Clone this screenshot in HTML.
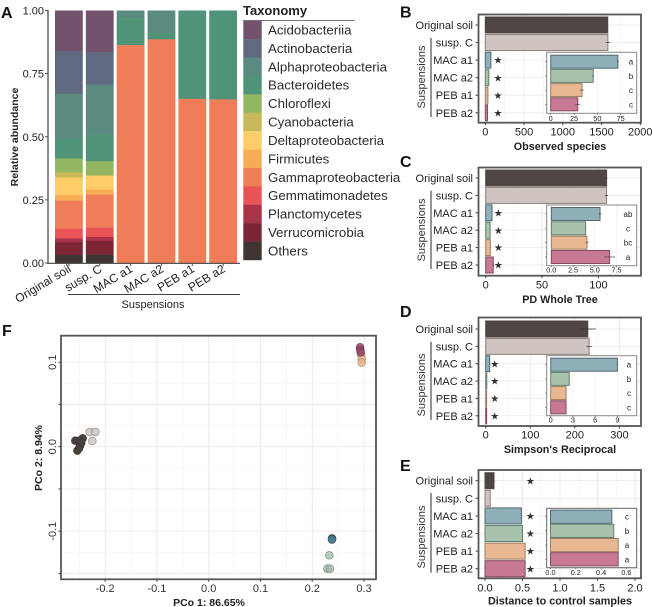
<!DOCTYPE html>
<html lang="en">
<head>
<meta charset="utf-8">
<title>Soil community composition and diversity</title>
<style>
html,body{margin:0;padding:0;background:#fff;width:652px;height:607px;overflow:hidden}
svg{display:block;font-family:"Liberation Sans",Arial,sans-serif;fill:#222;filter:blur(0.3px)}
</style>
</head>
<body>
<svg id="figure" width="652" height="607" viewBox="0 0 652 607" xmlns="http://www.w3.org/2000/svg">
  <rect x="0" y="0" width="652" height="607" fill="#fff"/>
  <text x="1" y="18" font-size="16" font-weight="bold" fill="#111">A</text>
  <text x="400" y="17.5" font-size="16" font-weight="bold" fill="#111">B</text>
  <text x="400" y="167" font-size="16" font-weight="bold" fill="#111">C</text>
  <text x="400" y="317" font-size="16" font-weight="bold" fill="#111">D</text>
  <text x="400" y="471" font-size="16" font-weight="bold" fill="#111">E</text>
  <text x="2" y="336" font-size="16" font-weight="bold" fill="#111">F</text>
  <text transform="translate(18,137) rotate(-90)" text-anchor="middle" font-size="10.5" font-weight="bold">Relative abundance</text>
  <text x="153" y="308" text-anchor="middle" font-size="11">Suspensions</text>
  <line x1="68" x2="240" y1="294.5" y2="294.5" stroke="#444" stroke-width="1"/>
  <text x="243" y="15" font-size="13" font-weight="bold" fill="#222">Taxonomy</text>
  <line x1="243" x2="355" y1="20.5" y2="20.5" stroke="#777" stroke-width="1"/>
  <text x="209" y="606" text-anchor="middle" font-size="10.5" font-weight="bold">PCo 1: 86.65%</text>
  <text transform="translate(42,458) rotate(-90)" text-anchor="middle" font-size="10.5" font-weight="bold">PCo 2: 8.94%</text>
</svg>
<script>
// ---------- Panel A data ----------
const taxa = ['Acidobacteriia','Actinobacteria','Alphaproteobacteria','Bacteroidetes','Chloroflexi','Cyanobacteria','Deltaproteobacteria','Firmicutes','Gammaproteobacteria','Gemmatimonadetes','Planctomycetes','Verrucomicrobia','Others'];
const samples = ['Original soil','susp. C','MAC a1','MAC a2','PEB a1','PEB a2'];
const stackOriginalSoil = [0.16,0.17,0.18,0.076,0.055,0.02,0.07,0.022,0.112,0.038,0.015,0.05,0.032];
const stackSuspC = [0.164,0.13,0.198,0.105,0.055,0.003,0.054,0.02,0.131,0.037,0.015,0.055,0.033];
const stackMacA1 = [0,0,0.03,0.107,0,0,0,0,0.863,0,0,0,0];
const stackMacA2 = [0,0,0.09,0.024,0,0,0,0,0.886,0,0,0,0];
const stackPebA1 = [0,0,0,0.35,0,0,0,0,0.65,0,0,0,0];
const stackPebA2 = [0,0,0,0.352,0,0,0,0,0.648,0,0,0,0];
const abundanceTicks = [0,0.25,0.5,0.75,1];

// ---------- Panels B-E data ----------
const observedValues = [1580,1582,72,45.5,33.5,29];
const observedErrors = [4,28,1,1,2,2.5];
const observedTicks = [0,500,1000,1500,2000];
const observedInsetTicks = [0,25,50,75];
const observedLetters = ['a','b','c','c'];

const pdValues = [107.3,107.2,5.6,3.95,4.1,6.7];
const pdErrors = [0.5,1.5,0.15,0.05,0.15,0.63];
const pdTicks = [0,50,100];
const pdInsetTicks = [0,2.5,5,7.5];
const pdLetters = ['ab','c','bc','a'];

const simpsonValues = [229,232,9,2.5,2.07,2.07];
const simpsonErrors = [18,6,0.1,0.05,0.02,0.02];
const simpsonTicks = [0,100,200,300];
const simpsonInsetTicks = [0,3,6,9];
const simpsonLetters = ['a','b','c','c'];

const distanceValues = [0.12,0.07,0.485,0.5,0.535,0.535];
const distanceErrors = [0,0,0,0,0,0];
const distanceTicks = [0,0.5,1,1.5,2];
const distanceInsetTicks = [0,0.2,0.4,0.6];
const distanceLetters = ['c','b','a','a'];

// ---------- Panel F data ----------
const pcoTicksX = [-0.2,-0.1,0,0.1,0.2,0.3];
const pcoTicksY = [-0.1,0,0.1];
const pcoOriginalX = [-0.2577,-0.2434,-0.25,-0.2538,-0.2486,-0.2505,-0.2461];
const pcoOriginalY = [0.0071,0.0099,0.0071,-0.0047,0.0008,-0.0019,0.0047];
const pcoSuspX = [-0.2299,-0.219,-0.2248];
const pcoSuspY = [0.0174,0.0174,0.0067];
const pcoMacA1X = [0.2382,0.2385,0.238];
const pcoMacA1Y = [-0.1085,-0.1092,-0.11];
const pcoMacA2X = [0.233,0.2291,0.2343];
const pcoMacA2Y = [-0.1285,-0.1444,-0.1444];
const pcoPebA1X = [0.2948,0.2955,0.2955];
const pcoPebA1Y = [0.1085,0.1038,0.0994];
const pcoPebA2X = [0.2923,0.2928,0.2936];
const pcoPebA2Y = [0.1176,0.1145,0.1118];

// ---------- Styles ----------
const taxonColors = ['#73526b','#5f6a80','#5a8a80','#4f9478','#93b662','#c7b95a','#fdcd68','#f7ac56','#ee7d58','#ea5456','#a93347','#7b2535','#3e3533'];
const barFill = ['#4f4643','#cfc4bf','#8fb0b8','#a9c2ae','#e9b892','#c87a95'];
const barStroke = ['#4f4643','#8a7f78','#4f6872','#64806b','#9a7d65','#85495f'];

const NS = 'http://www.w3.org/2000/svg';
const root = document.getElementById('figure');

function make(tag, name, parent) {
  const el = document.createElementNS(NS, tag);
  
  
  parent.appendChild(el);
  return el;
}
function line(parent, name, x1, y1, x2, y2, color, width) {
  const el = make('line', name, parent);
  el.setAttribute('x1', x1); el.setAttribute('y1', y1);
  el.setAttribute('x2', x2); el.setAttribute('y2', y2);
  el.setAttribute('stroke', color); el.setAttribute('stroke-width', width);
  return el;
}
function rect(parent, name, x, y, w, h, fill, stroke, sw) {
  const el = make('rect', name, parent);
  el.setAttribute('x', x); el.setAttribute('y', y);
  el.setAttribute('width', Math.max(0, w)); el.setAttribute('height', Math.max(0, h));
  el.setAttribute('fill', fill);
  if (stroke) { el.setAttribute('stroke', stroke); el.setAttribute('stroke-width', sw); }
  return el;
}
function text(parent, name, x, y, str, size, anchor, opts) {
  const el = make('text', name, parent);
  opts = opts || {};
  el.setAttribute('font-size', size);
  el.setAttribute('text-anchor', anchor || 'start');
  if (opts.weight) el.setAttribute('font-weight', opts.weight);
  if (opts.fill) el.setAttribute('fill', opts.fill);
  if (opts.family) el.setAttribute('font-family', opts.family);
  if (opts.rotate !== undefined) {
    el.setAttribute('transform', 'translate(' + x + ',' + y + ') rotate(' + opts.rotate + ')');
  } else {
    el.setAttribute('x', x);
    el.setAttribute('y', y);
  }
  el.textContent = str;
  return el;
}
function slug(s) { return String(s).toLowerCase().replace(/[^a-z0-9]+/g, '-'); }

// ---------- Panel A ----------
(function drawStack() {
  const g = make('g', 'stacked-bar-chart', root);
  const yScale = v => 263 - 252.5 * v;
  const xLeft = i => 55 + 30.85 * i;
  const barW = 27.8;
  const stacks = [stackOriginalSoil, stackSuspC, stackMacA1, stackMacA2, stackPebA1, stackPebA2];
  stacks.forEach((stack, i) => {
    const col = make('g', 'stack-' + slug(samples[i]), g);
    let top = 1;
    stack.forEach((v, t) => {
      if (v <= 0) return;
      const y0 = yScale(top);
      const y1 = yScale(top - v);
      rect(col, 'segment-' + slug(taxa[t]), xLeft(i), y0, barW, y1 - y0 + 0.2, taxonColors[t]);
      top -= v;
    });
    const cx = xLeft(i) + barW / 2;
    line(g, 'x-tick', cx, 263, cx, 266, '#555', 1);
    text(g, 'x-tick-label', cx + 3, 271, samples[i], 12, 'end', { rotate: -31, fill: '#222' });
  });
  line(g, 'y-axis-line', 48, 10, 48, 264, '#666', 1.5);
  line(g, 'x-axis-line', 47.3, 263.4, 240, 263.4, '#555', 1.2);
  abundanceTicks.forEach(v => {
    line(g, 'y-tick', 45, yScale(v), 48, yScale(v), '#555', 1);
    text(g, 'y-tick-label', 44, yScale(v) + 4, v.toFixed(2), 11, 'end', { fill: '#222' });
  });
  const lg = make('g', 'taxonomy-legend', root);
  const rowH = (260 - 20.7) / taxa.length;
  taxa.forEach((name, i) => {
    rect(lg, 'legend-swatch-' + slug(name), 243.3, 20.7 + rowH * i, 18.4, rowH + 0.2, taxonColors[i]);
    text(lg, 'legend-label-' + slug(name), 268, 20.7 + rowH * (i + 0.5) + 4.6, name, 13.3, 'start', { fill: '#2b2b2b' });
  });
})();

// ---------- Panels B-E ----------
function drawBarPanel(cfg) {
  const g = make('g', cfg.name + '-panel', root);
  const xs = v => cfg.x0 + cfg.scale * v;
  const rowY = i => cfg.firstRow + cfg.step * i;
  const L = 478.5, R = 641, T = cfg.top, B = cfg.bottom;
  // frame background + grid
  rect(g, 'plot-background', L, T, R - L, B - T, '#fff');
  for (let i = 0; i < samples.length; i++) {
    line(g, 'grid-line-horizontal', L, rowY(i), R, rowY(i), '#efe9e6', 0.8);
  }
  cfg.ticks.forEach((v, i) => {
    line(g, 'grid-line-vertical', xs(v), T, xs(v), B, '#ede6e3', 0.8);
    if (i < cfg.ticks.length - 1) {
      const mid = xs((v + cfg.ticks[i + 1]) / 2);
      line(g, 'grid-line-minor', mid, T, mid, B, '#f5f1ef', 0.6);
    }
  });
  // bars
  cfg.values.forEach((v, i) => {
    rect(g, 'bar-' + slug(samples[i]), cfg.x0, rowY(i) - cfg.barH / 2, xs(v) - cfg.x0, cfg.barH, barFill[i], barStroke[i], 1);
    if (cfg.errors[i] > 0) {
      line(g, 'error-bar-' + slug(samples[i]), xs(v - cfg.errors[i]), rowY(i), xs(v + cfg.errors[i]), rowY(i), '#333', 0.7);
    }
    line(g, 'y-tick', L - 3, rowY(i), L, rowY(i), '#444', 1);
    text(g, 'y-tick-label', 473, rowY(i) + 4, samples[i], 11, 'end', { fill: '#222' });
    if (cfg.starX[i] !== null) {
      text(g, 'significance-star', cfg.starX[i], rowY(i) + 3.6, '\u2605', 10, 'middle', { fill: '#333', family: '"DejaVu Sans",sans-serif' });
    }
  });
  // frame
  rect(g, 'plot-frame', L, T, R - L, B - T, 'none', '#5a5654', 1.8);
  cfg.ticks.forEach(v => {
    line(g, 'x-tick', xs(v), B, xs(v), B + 2.5, '#444', 1);
    text(g, 'x-tick-label', xs(v), B + cfg.tickOffset, cfg.fmt(v), 11, 'middle', { fill: '#222' });
  });
  text(g, 'x-axis-title', 560, cfg.titleY, cfg.title, 10.8, 'middle', { weight: 'bold', fill: '#222' });
  text(g, 'suspensions-axis-label', 425, cfg.groupMid, 'Suspensions', 11, 'middle', { rotate: -90, fill: '#333' });
  line(g, 'suspensions-bracket', 431, cfg.groupTop, 431, cfg.groupBottom, '#666', 1.4);

  // inset
  const ins = make('g', cfg.name + '-inset', g);
  const iL = 546.7, iR = 636.7;
  const ix = v => cfg.ix0 + cfg.iscale * v;
  const iy = i => cfg.iFirst + cfg.iStep * i;
  rect(ins, 'inset-background', iL, cfg.iTop, iR - iL, cfg.iBottom - cfg.iTop, '#fff');
  cfg.iTicks.forEach(v => {
    line(ins, 'inset-grid-line', ix(v), cfg.iTop, ix(v), cfg.iBottom, '#f0ebe8', 0.6);
  });
  cfg.values.slice(2).forEach((v, i) => {
    const s = i + 2;
    rect(ins, 'inset-bar-' + slug(samples[s]), cfg.ix0, iy(i) - cfg.iBarH / 2, ix(v) - cfg.ix0, cfg.iBarH, barFill[s], barStroke[s], 1);
    if (cfg.errors[s] > 0) {
      line(ins, 'inset-error-bar', ix(v - cfg.errors[s]), iy(i), ix(v + cfg.errors[s]), iy(i), '#444', 0.7);
    }
    line(ins, 'inset-y-tick', iL - 1.5, iy(i), iL, iy(i), '#555', 0.7);
    text(ins, 'inset-significance-letter', cfg.letterX, iy(i) + 3, cfg.letters[i], 8, 'middle', { fill: '#222' });
  });
  rect(ins, 'inset-frame', iL, cfg.iTop, iR - iL, cfg.iBottom - cfg.iTop, 'none', cfg.iFrame, 1);
  cfg.iTicks.forEach(v => {
    line(ins, 'inset-x-tick', ix(v), cfg.iBottom, ix(v), cfg.iBottom + 1.5, '#555', 0.7);
    text(ins, 'inset-x-tick-label', ix(v), cfg.iBottom + cfg.iLabel, cfg.ifmt(v), 7.3, 'middle', { fill: '#222' });
  });
}

drawBarPanel({
  name: 'observed-species', values: observedValues, errors: observedErrors, ticks: observedTicks,
  fmt: v => String(v), x0: 485.3, scale: 0.0775, top: 14.5, bottom: 122.7, firstRow: 25, step: 17.55, barH: 16,
  tickOffset: 13, titleY: 150, title: 'Observed species', groupMid: 77, groupTop: 38, groupBottom: 117,
  starX: [null, null, 498, 498, 498, 498],
  iTicks: observedInsetTicks, ifmt: v => String(v), ix0: 550.7, iscale: 0.933, iTop: 52.3, iBottom: 113.3,
  iFirst: 61.7, iStep: 14.2, iBarH: 13, letterX: 631, letters: observedLetters, iFrame: '#888', iLabel: 7.5
});
drawBarPanel({
  name: 'pd-whole-tree', values: pdValues, errors: pdErrors, ticks: pdTicks,
  fmt: v => String(v), x0: 485.7, scale: 1.127, top: 167.5, bottom: 275.7, firstRow: 178, step: 17.4, barH: 16,
  tickOffset: 13, titleY: 303, title: 'PD Whole Tree', groupMid: 230, groupTop: 190.7, groupBottom: 269,
  starX: [null, null, 498.3, 498.3, 498.3, 498.3],
  iTicks: pdInsetTicks, ifmt: v => v.toFixed(1), ix0: 551.3, iscale: 8.7, iTop: 205, iBottom: 265.7,
  iFirst: 214, iStep: 14.33, iBarH: 13, letterX: 628, letters: pdLetters, iFrame: '#888', iLabel: 7
});
drawBarPanel({
  name: 'simpsons-reciprocal', values: simpsonValues, errors: simpsonErrors, ticks: simpsonTicks,
  fmt: v => String(v), x0: 485.7, scale: 0.4457, top: 317.5, bottom: 426, firstRow: 329, step: 17.35, barH: 16,
  tickOffset: 12.5, titleY: 453, title: "Simpson's Reciprocal", groupMid: 385, groupTop: 341.7, groupBottom: 420,
  starX: [null, null, 494.7, 494.7, 494.7, 494.7],
  iTicks: simpsonInsetTicks, ifmt: v => String(v), ix0: 550.7, iscale: 7.41, iTop: 355.7, iBottom: 415.7,
  iFirst: 364.7, iStep: 14.2, iBarH: 13, letterX: 629, letters: simpsonLetters, iFrame: '#888', iLabel: 7
});
drawBarPanel({
  name: 'distance-to-control', values: distanceValues, errors: distanceErrors, ticks: distanceTicks,
  fmt: v => v.toFixed(1), x0: 485, scale: 75, top: 470, bottom: 578.3, firstRow: 480.7, step: 17.6, barH: 16,
  tickOffset: 13, titleY: 604.5, title: 'Distance to control samples', groupMid: 537, groupTop: 493, groupBottom: 572.7,
  starX: [530.3, null, 530.3, 530.3, 530.3, 530.3],
  iTicks: distanceInsetTicks, ifmt: v => v.toFixed(1), ix0: 550.5, iscale: 126.5, iTop: 508.3, iBottom: 567.7,
  iFirst: 516.7, iStep: 14.2, iBarH: 13.2, letterX: 627, letters: distanceLetters, iFrame: '#666', iLabel: 7.5
});

// ---------- Panel F ----------
(function drawScatter() {
  const g = make('g', 'pcoa-scatter-plot', root);
  const xs = v => 208.7 + 517.7 * v;
  const ys = v => 446.7 - 845 * v;
  const L = 61, R = 376, T = 335.7, B = 579.3;
  rect(g, 'plot-background', L, T, R - L, B - T, '#fff');
  for (let k = -6; k <= 5; k++) {
    const v = k * 0.025;
    const major = k % 2 === 0;
    line(g, 'grid-line-horizontal', L, ys(v), R, ys(v), major ? '#efe9e6' : '#f5f2ef', major ? 0.8 : 0.6);
  }
  for (let k = -5; k <= 6; k++) {
    const v = k * 0.05;
    const major = k % 2 === 0;
    line(g, 'grid-line-vertical', xs(v), T, xs(v), B, major ? '#ece5e2' : '#f4f0ee', major ? 0.8 : 0.6);
  }
  const groups = [
    ['original-soil', pcoOriginalX, pcoOriginalY, '#4a413e', '#3d3532', 1],
    ['susp-c', pcoSuspX, pcoSuspY, '#cfc5c1', '#8d827d', 0.85],
    ['mac-a1', pcoMacA1X, pcoMacA1Y, '#4a7d92', '#35505e', 0.85],
    ['mac-a2', pcoMacA2X, pcoMacA2Y, '#a3bcae', '#6c8575', 0.8],
    ['peb-a1', pcoPebA1X, pcoPebA1Y, '#e7b48d', '#a5866b', 0.85],
    ['peb-a2', pcoPebA2X, pcoPebA2Y, '#9a4a6a', '#6b3048', 0.85]
  ];
  groups.forEach(gr => {
    gr[1].forEach((x, i) => {
      const c = make('circle', 'point-' + gr[0], g);
      c.setAttribute('cx', xs(x));
      c.setAttribute('cy', ys(gr[2][i]));
      c.setAttribute('r', 3.9);
      c.setAttribute('fill', gr[3]);
      c.setAttribute('fill-opacity', gr[5]);
      c.setAttribute('stroke', gr[4]);
      c.setAttribute('stroke-width', 0.6);
    });
  });
  rect(g, 'plot-frame', L, T, R - L, B - T, 'none', '#5a5654', 1.8);
  pcoTicksX.forEach(v => {
    line(g, 'x-tick', xs(v), B, xs(v), B + 2.5, '#444', 1);
    text(g, 'x-tick-label', xs(v), 592, v.toFixed(1), 11, 'middle', { fill: '#333' });
  });
  for (let k = -3; k <= 2; k++) {
    line(g, 'y-tick', L - 2.5, ys(k * 0.05), L, ys(k * 0.05), '#444', 1);
  }
  pcoTicksY.forEach(v => {
    text(g, 'y-tick-label', 56, ys(v), v.toFixed(1), 11, 'middle', { rotate: -90, fill: '#333' });
  });
})();
</script>
</body>
</html>
